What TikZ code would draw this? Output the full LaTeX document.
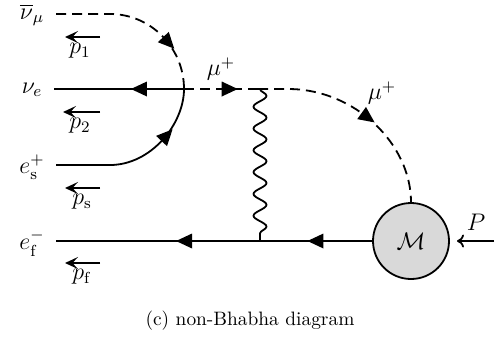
\documentclass[tikz,border=0pt]{standalone}
\usepackage{amsmath}
\usetikzlibrary{arrows.meta,decorations.markings,decorations.pathmorphing}
\tikzset{
  x=0.5pt,y=-0.5pt,
  line/.style={line width=0.9pt},
  dashline/.style={line width=0.9pt,dash pattern=on 5pt off 3pt},
  mid/.style={postaction={decorate},decoration={markings,mark=at position #1 with {\fill[solid] (0pt,3.75pt) -- (8pt,0pt) -- (0pt,-3.75pt) -- cycle;}}},
  mom/.style={line width=0.9pt,-{Stealth[length=6.5pt,width=6pt,inset=2.8pt]}},
  pin/.style={line width=0.9pt,-{Computer Modern Rightarrow[length=3.5pt,width=6.5pt]}},
  lbl/.style={inner sep=0pt,font=\large},
}
\begin{document}
\begin{tikzpicture}
\useasboundingbox (0,0) rectangle (502,339);
\coordinate (a1) at (56,14);
\coordinate (a2) at (110,14);
\coordinate (c) at (184,89);
\coordinate (b1) at (54,89);
\coordinate (s1) at (56,165);
\coordinate (s2) at (110,165);
\coordinate (v) at (258,89);
\coordinate (v2) at (288,89);
\coordinate (w) at (260,241);
\coordinate (f1) at (56,241);
\coordinate (pe) at (494,241);
\coordinate (pt) at (457,241);
\node[circle,draw,line width=0.9pt,fill=black!15,minimum size=38pt,inner sep=0pt,font=\large] (M) at (411,241) {$\mathcal{M}$};
\draw[dashline,mid=0.665] (a1) -- (a2) .. controls +(41,0) and (184,48) .. (c);
\draw[line,mid=0.285] (c) -- (b1);
\draw[line,mid=0.66] (s1) -- (s2) .. controls +(41,0) and (184,124) .. (c);
\draw[dashline,mid=0.51] (c) -- (v);
\draw[dashline,mid=0.507] (v) -- (v2) .. controls +(67,0) and (411,144) .. (M.north);
\draw[line,decorate,decoration={snake,amplitude=3.25pt,segment length=10.9pt,pre length=0pt,post length=0pt}] (v) ++(2,0) -- (w);
\draw[line,mid=0.333] (w) -- (f1);
\draw[line,mid=0.434] (M.west) -- (w);
\draw[pin] (pe) -- (pt);
\coordinate (p1a) at (100,37); \coordinate (p1b) at (65,37);
\coordinate (p2a) at (100,112); \coordinate (p2b) at (63,112);
\coordinate (p3a) at (100,188); \coordinate (p3b) at (65,188);
\coordinate (p4a) at (100,263); \coordinate (p4b) at (65,263);
\draw[mom] (p1a) -- (p1b);
\draw[mom] (p2a) -- (p2b);
\draw[mom] (p3a) -- (p3b);
\draw[mom] (p4a) -- (p4b);
\node[lbl] (l1) at (32,15) {$\overline{\nu}_\mu$};
\node[lbl] (l2) at (32,90) {$\nu_e$};
\node[lbl] (l3) at (32,167) {$e^+_{\mathrm{s}}$};
\node[lbl] (l4) at (32,243) {$e^-_{\mathrm{f}}$};
\node[lbl] (q1) at (80,51) {$p_1$};
\node[lbl] (q2) at (80,126) {$p_2$};
\node[lbl] (q3) at (82,202) {$p_{\mathrm{s}}$};
\node[lbl] (q4) at (82,277) {$p_{\mathrm{f}}$};
\node[lbl] (m1) at (221,69) {$\mu^+$};
\node[lbl] (m2) at (382,93) {$\mu^+$};
\node[lbl] (P) at (476,222) {$P$};
\node[inner sep=0pt,scale=0.97] (cap) at (250,321) {(c) non-Bhabha diagram};
\end{tikzpicture}
\end{document}
